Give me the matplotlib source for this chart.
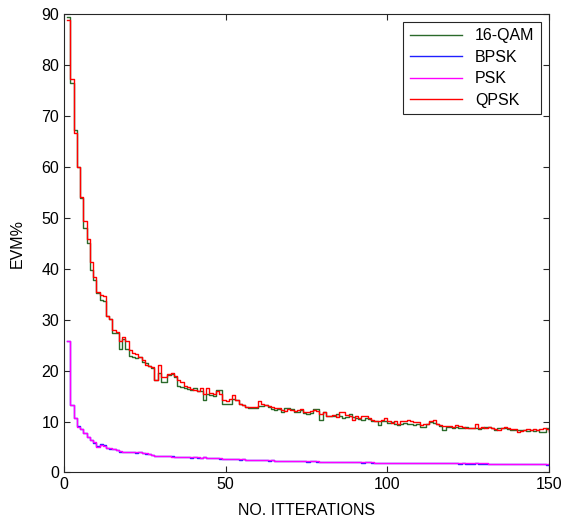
import numpy as np
import matplotlib
matplotlib.use("Agg")
import matplotlib.pyplot as plt

plt.rcParams['font.family'] = ['Liberation Sans', 'DejaVu Sans']

iterations = np.arange(1, 151)

qam16 = [89.4, 76.5, 67.2, 60.0, 53.8, 48.0, 45.0, 39.8, 37.7, 35.2,
         33.8, 33.7, 30.8, 30.2, 27.4, 27.3, 24.3, 26.3, 24.3, 22.8,
         22.7, 22.4, 22.7, 21.7, 21.5, 20.9, 20.6, 18.2, 19.5, 17.8,
         17.8, 19.2, 19.3, 18.7, 16.9, 16.8, 16.5, 16.4, 16.2, 16.5,
         15.9, 15.9, 14.3, 15.5, 15.2, 15.0, 16.2, 16.2, 13.4, 13.4,
         13.4, 14.5, 14.3, 13.5, 13.2, 12.8, 12.6, 12.7, 12.6, 13.1,
         13.0, 13.3, 12.9, 12.4, 12.3, 12.5, 11.9, 12.7, 12.7, 12.4,
         11.9, 11.9, 12.2, 11.6, 11.4, 11.6, 12.4, 12.4, 10.3, 11.8,
         11.1, 11.1, 11.0, 11.4, 11.1, 10.7, 10.9, 11.4, 10.9, 10.7,
         10.5, 10.3, 10.6, 10.5, 10.1, 10.1, 9.3, 10.1, 10.1, 9.8,
         9.9, 9.6, 9.4, 9.6, 9.8, 9.6, 9.6, 9.4, 9.6, 9.0,
         9.0, 9.45, 10.0, 9.65, 9.45, 9.2, 8.3, 9.0, 9.0, 8.8,
         9.0, 8.8, 8.7, 9.0, 8.7, 8.7, 8.8, 8.5, 8.8, 9.0,
         8.9, 8.7, 8.3, 8.7, 8.7, 8.7, 8.5, 8.3, 8.3, 8.3,
         8.3, 8.3, 8.1, 8.3, 8.1, 8.3, 7.9, 8.0, 8.8, 8.2]

bpsk = [25.8, 13.2, 10.6, 9.1, 8.5, 7.8, 7.0, 6.3, 5.8, 5.2,
        5.5, 5.3, 4.8, 4.7, 4.6, 4.4, 4.0, 4.1, 4.1, 4.0,
        4.0, 3.9, 4.0, 3.8, 3.65, 3.7, 3.35, 3.3, 3.25, 3.2,
        3.25, 3.2, 3.15, 3.05, 3.1, 3.0, 2.95, 3.0, 2.9, 2.95,
        2.9, 2.9, 2.95, 2.85, 2.8, 2.75, 2.75, 2.7, 2.7, 2.65,
        2.6, 2.6, 2.65, 2.55, 2.6, 2.5, 2.55, 2.45, 2.5, 2.4,
        2.45, 2.4, 2.35, 2.4, 2.3, 2.35, 2.3, 2.25, 2.3, 2.25,
        2.3, 2.2, 2.25, 2.2, 2.15, 2.2, 2.2, 2.15, 2.15, 2.1,
        2.15, 2.1, 2.1, 2.1, 2.05, 2.1, 2.0, 2.05, 2.05, 2.0,
        2.0, 1.95, 2.0, 2.0, 1.95, 1.95, 1.9, 1.95, 1.95, 1.9,
        1.9, 1.9, 1.85, 1.9, 1.9, 1.85, 1.9, 1.85, 1.9, 1.85,
        1.85, 1.8, 1.85, 1.85, 1.8, 1.85, 1.8, 1.8, 1.85, 1.8,
        1.8, 1.75, 1.8, 1.75, 1.75, 1.7, 1.8, 1.75, 1.75, 1.7,
        1.75, 1.7, 1.7, 1.75, 1.7, 1.65, 1.7, 1.7, 1.65, 1.7,
        1.65, 1.7, 1.65, 1.6, 1.65, 1.65, 1.6, 1.65, 1.55, 1.6]

psk = [25.8, 13.2, 10.6, 9.0, 8.5, 7.7, 6.9, 6.3, 5.9, 5.1,
       5.3, 5.2, 4.8, 4.8, 4.6, 4.5, 4.3, 4.1, 4.1, 4.05,
       4.0, 4.0, 4.0, 3.8, 3.8, 3.65, 3.45, 3.25, 3.25, 3.25,
       3.25, 3.25, 3.1, 3.1, 3.1, 3.0, 3.0, 3.0, 2.95, 2.95,
       2.95, 2.9, 2.95, 2.9, 2.8, 2.8, 2.75, 2.75, 2.7, 2.7,
       2.7, 2.65, 2.65, 2.6, 2.6, 2.55, 2.55, 2.5, 2.5, 2.45,
       2.45, 2.45, 2.4, 2.4, 2.35, 2.35, 2.35, 2.3, 2.3, 2.3,
       2.3, 2.25, 2.25, 2.25, 2.2, 2.2, 2.2, 2.2, 2.15, 2.15,
       2.15, 2.15, 2.1, 2.1, 2.1, 2.1, 2.05, 2.05, 2.05, 2.05,
       2.0, 2.0, 2.0, 2.0, 2.0, 1.95, 1.95, 1.95, 1.95, 1.95,
       1.9, 1.9, 1.9, 1.9, 1.9, 1.9, 1.9, 1.9, 1.9, 1.9,
       1.85, 1.85, 1.85, 1.85, 1.85, 1.85, 1.85, 1.85, 1.85, 1.85,
       1.8, 1.8, 1.8, 1.8, 1.8, 1.8, 1.8, 1.8, 1.8, 1.8,
       1.75, 1.75, 1.75, 1.75, 1.75, 1.75, 1.75, 1.75, 1.75, 1.75,
       1.7, 1.7, 1.7, 1.7, 1.7, 1.7, 1.7, 1.7, 1.65, 1.65]

qpsk = [88.9, 77.2, 66.7, 60.0, 54.0, 49.3, 45.8, 41.3, 38.3, 35.4,
        34.9, 34.6, 30.8, 30.2, 28.0, 27.5, 25.8, 26.5, 25.8, 24.0,
        23.5, 23.3, 22.7, 22.0, 21.1, 20.9, 20.7, 18.2, 21.1, 18.8,
        18.8, 19.4, 19.5, 18.9, 18.1, 17.8, 16.9, 16.7, 16.3, 16.2,
        15.9, 16.5, 15.5, 16.5, 15.6, 15.5, 15.9, 15.5, 14.3, 14.1,
        14.5, 15.3, 14.2, 13.4, 13.2, 12.9, 12.9, 12.8, 12.8, 14.0,
        13.4, 13.2, 13.1, 12.9, 12.7, 12.6, 12.2, 12.1, 12.4, 12.2,
        12.1, 12.3, 12.4, 11.9, 11.8, 12.1, 12.3, 12.1, 11.4, 11.8,
        11.1, 11.1, 11.2, 10.9, 11.8, 11.8, 11.3, 11.0, 10.3, 11.0,
        10.6, 11.0, 11.1, 10.7, 10.3, 10.1, 10.1, 10.3, 10.6, 10.1,
        9.8, 10.1, 9.6, 10.1, 10.1, 10.3, 10.1, 10.0, 9.9, 9.4,
        9.6, 9.6, 10.1, 10.3, 9.5, 9.3, 9.2, 9.2, 9.2, 9.0,
        9.4, 9.2, 9.0, 8.8, 8.8, 8.7, 9.6, 8.8, 9.0, 8.8,
        8.9, 8.8, 8.5, 8.3, 8.8, 9.0, 8.8, 8.5, 8.5, 8.0,
        8.1, 8.3, 8.5, 8.4, 8.5, 8.3, 8.6, 8.8, 8.6, 8.0]

fig = plt.figure(figsize=(5.71, 5.19), dpi=100)
ax = fig.add_axes([0.112, 0.0896, 0.8495, 0.8834])

ax.step(iterations, qam16, where="post", color="#2a6a2a", linewidth=1.0, label="16-QAM")
ax.step(iterations, bpsk, where="post", color="#2020ff", linewidth=1.0, label="BPSK")
ax.step(iterations, psk, where="post", color="#ff00ff", linewidth=1.0, label="PSK")
ax.step(iterations, qpsk, where="post", color="#ff0000", linewidth=1.0, label="QPSK")

ax.set_xlim(0, 150)
ax.set_ylim(0, 90)
ax.set_xticks([0, 50, 100, 150])
ax.set_yticks(range(0, 91, 10))
ax.tick_params(direction="in", top=True, right=True, labelsize=11.5, length=4, width=0.8, colors="#262626", labelcolor="black")
for s in ax.spines.values():
    s.set_color("#262626")
    s.set_linewidth(0.8)

ax.set_xlabel("NO. ITTERATIONS", fontsize=11.5, labelpad=8)
ax.set_ylabel("EVM%", fontsize=11.5, labelpad=12)

leg = ax.legend(loc="upper right", fontsize=11.5, handlelength=3.3, labelspacing=0.4,
                fancybox=False, framealpha=1, edgecolor="#262626", borderpad=0.4)
leg.get_frame().set_linewidth(0.8)

plt.savefig("out.png", dpi=100)
